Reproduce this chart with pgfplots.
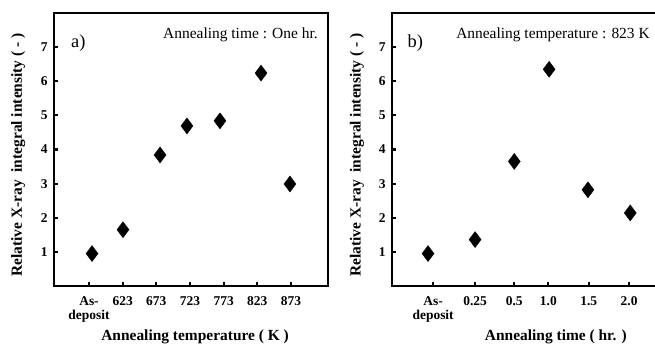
\documentclass[border=0pt]{standalone}
\usepackage{pgfplots}
\pgfplotsset{compat=1.18}
\usepackage{fontspec}
\setmainfont{Liberation Serif}
\begin{document}
\begin{tikzpicture}
\useasboundingbox (0,0) rectangle (655bp,345bp);
\clip (0,0) rectangle (655bp,345bp);
\pgfplotsset{
  panel/.style={
    scale only axis,
    anchor=south west,
    height=273bp,
    ymin=0, ymax=8,
    ytick={1,2,3,4,5,6,7},
    axis line style={line width=2.6bp},
    every tick/.style={black, line width=2.2bp},
    major tick length=4bp,
    tick align=inside,
    xtick pos=bottom, ytick pos=left,
    /pgf/number format/assume math mode=true,
    tick label style={font=\fontsize{13.5}{14.5}\selectfont\bfseries},
    xticklabel style={align=center, yshift=-7bp},
    yticklabel style={xshift=-3bp},
    label style={font=\fontsize{15.5}{17}\selectfont\bfseries},
    clip=false,
  }
}
\begin{axis}[panel,
  at={(54bp,59bp)}, width=274bp,
  xmin=-1.04, xmax=7.10,
  xtick={0,1,2,3,4,5,6},
  xticklabels={{As-\\deposit},623,673,723,773,823,873},
  xlabel={Annealing temperature ( K )},
  xlabel style={at={(axis description cs:0.515,0)}, anchor=north, yshift=-40.5bp},
  ylabel={Relative X-ray \ integral intensity ( - )},
  ylabel style={at={(axis description cs:-0.131,0.48)}, anchor=center},
]
\addplot[only marks, mark=diamond*, mark size=8bp, black] coordinates {
(0.09,0.95) (1.01,1.65) (2.11,3.84) (2.91,4.69) (3.89,4.84) (5.11,6.24) (5.97,2.99)
};
\node[anchor=west, font=\fontsize{18.5}{20}\selectfont] at (axis description cs:0.05,0.89) {a)};
\node[anchor=east, font=\fontsize{15.5}{17}\selectfont] at (axis description cs:0.975,0.92) {Annealing time : One hr.};
\end{axis}
\begin{axis}[panel,
  at={(392bp,59bp)}, width=270bp,
  xmin=-1.05, xmax=5.84,
  xtick={0,1.07,2.07,2.94,3.97,5.0},
  xticklabels={{As-\\deposit},0.25,0.5,1.0,1.5,2.0},
  xlabel={Annealing time ( hr. )},
  xlabel style={at={(axis description cs:0.607,0)}, anchor=north, yshift=-40.5bp},
  ylabel={Relative X-ray \ integral intensity ( - )},
  ylabel style={at={(axis description cs:-0.13,0.48)}, anchor=center},
]
\addplot[only marks, mark=diamond*, mark size=8bp, black] coordinates {
(-0.13,0.95) (1.07,1.36) (2.07,3.65) (2.96,6.35) (3.95,2.82) (5.03,2.14)
};
\node[anchor=west, font=\fontsize{18.5}{20}\selectfont] at (axis description cs:0.045,0.89) {b)};
\node[anchor=west, font=\fontsize{15.5}{17}\selectfont] at (axis description cs:0.225,0.92) {Annealing temperature : 823 K};
\end{axis}
\end{tikzpicture}
\end{document}
